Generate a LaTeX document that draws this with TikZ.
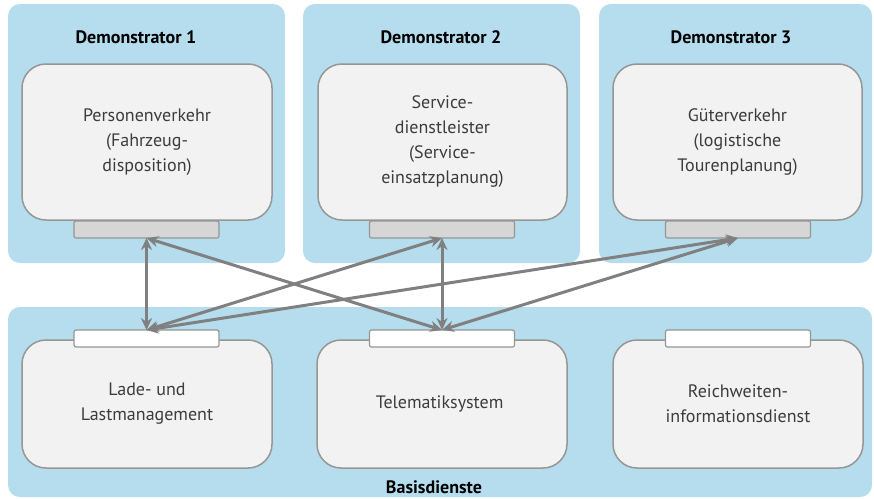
\documentclass[tikz,border=0pt]{standalone}
\usepackage{fontspec}
\setmainfont{PT Sans}
\usetikzlibrary{arrows.meta}
\definecolor{PanelBlue}{RGB}{181,221,238}
\definecolor{BoxFill}{RGB}{242,242,242}
\definecolor{BoxLine}{RGB}{150,150,150}
\definecolor{TabGray}{RGB}{214,214,214}
\definecolor{LinkGray}{RGB}{128,128,128}
\definecolor{TextGray}{RGB}{60,60,60}
\tikzstyle{panel} = [rectangle, rounded corners=12pt, fill=PanelBlue, inner sep=0pt, outer sep=0pt]
\tikzstyle{service} = [rectangle, rounded corners=24pt, minimum width=250pt, draw=BoxLine, fill=BoxFill, line width=1.5pt, text=TextGray, align=center, font=\fontsize{18}{25}\selectfont, inner sep=0pt, outer sep=0pt]
\tikzstyle{tab} = [rectangle, rounded corners=2pt, minimum width=145pt, minimum height=17pt, draw=BoxLine, line width=1.2pt, inner sep=0pt, outer sep=0pt]
\tikzstyle{title} = [font=\bfseries\fontsize{18}{20}\selectfont]
\tikzstyle{link} = [line width=3pt, draw=LinkGray, {Stealth[length=12pt,width=11pt]}-{Stealth[length=12pt,width=11pt]}]

\begin{document}
\begin{tikzpicture}[x=1pt, y=-1pt]

\fill[white] (0,0) rectangle (874,498);

% Hintergrundflaechen
\node (demo1) [panel, minimum width=277pt, minimum height=259pt] at (146.5,133.5) {};
\node (demo2) [panel, minimum width=277pt, minimum height=259pt] at (441.5,133.5) {};
\node (demo3) [panel, minimum width=273pt, minimum height=259pt] at (735.5,133.5) {};
\node (basis) [panel, minimum width=864pt, minimum height=190pt] at (440,402) {};

% Demonstratoren
\node (pers) [service, minimum height=156pt] at (147,142) {
    Personenverkehr\\
    (Fahrzeug-\\
    disposition)
};
\node (servdl) [service, minimum height=156pt, minimum width=249pt] at (442.5,142) {
    Service-\\
    dienstleister\\
    (Service-\\
    einsatzplanung)
};
\node (gueter) [service, minimum height=156pt, minimum width=249pt] at (737.5,142) {
    Güterverkehr\\
    (logistische\\
    Tourenplanung)
};

\node (persTab) [tab, fill=TabGray] at (146.5,229.5) {};
\node (servdlTab) [tab, fill=TabGray] at (442,229.5) {};
\node (gueterTab) [tab, fill=TabGray] at (738,229.5) {};

% Basisdienste
\node (lade) [service, minimum height=128pt] at (147,404) {
    Lade- und\\
    Lastmanagement
};
\node (telematik) [service, minimum height=128pt] at (442,404) {
    Telematiksystem
};
\node (reichweite) [service, minimum height=128pt] at (738,404) {
    Reichweiten-\\
    informationsdienst
};

\node (ladeTab) [tab, fill=white] at (146.5,338.5) {};
\node (telematikTab) [tab, fill=white] at (442,338.5) {};
\node (reichweiteTab) [tab, fill=white] at (738,338.5) {};

% Verbindungen
\draw [link] (persTab.south) -- (ladeTab.north);
\draw [link] (persTab.south) -- (telematikTab.north);
\draw [link] (ladeTab.north) -- (servdlTab.south);
\draw [link] (servdlTab.south) -- (telematikTab.north);
\draw [link] (ladeTab.north) -- (gueterTab.south);
\draw [link] (telematikTab.north) -- (gueterTab.south);

% Titel
\node (demo1Title) [title] at (136,37) {Demonstrator 1};
\node (demo2Title) [title] at (441,37) {Demonstrator 2};
\node (demo3Title) [title] at (731,37) {Demonstrator 3};
\node (basisTitle) [title] at (434,487) {Basisdienste};

\end{tikzpicture}
\end{document}
